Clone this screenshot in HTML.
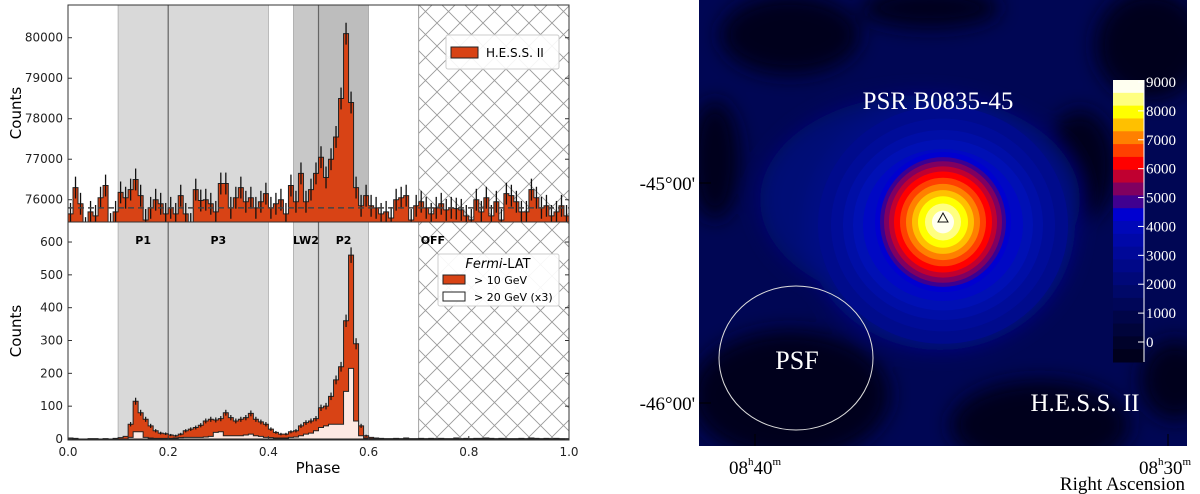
<!DOCTYPE html>
<html><head><meta charset="utf-8">
<style>
html,body{margin:0;padding:0;background:#fff;}
svg{display:block;}
text{font-family:"DejaVu Sans","Liberation Sans",sans-serif;}
.ser{font-family:"Liberation Serif",serif;}
</style></head>
<body>
<svg id="fig" width="1200" height="494" viewBox="0 0 1200 494">
<defs>
<pattern id="hatch" width="23" height="23" patternUnits="userSpaceOnUse">
<path d="M0,0L23,23M23,0L0,23" stroke="#9a9a9a" stroke-width="0.9" fill="none"/>
</pattern>
<filter id="blur"><feGaussianBlur stdDeviation="10"/></filter>
</defs>
<g id="left"></g>
<g id="right"></g>
</svg>
<script>
const hessCounts = [75650,76300,75900,75300,75700,75600,76050,76350,75400,75700,
76180,76050,76250,76500,76100,75500,75800,76000,75900,75650,
75800,75650,76100,75650,75400,76250,75980,76000,75900,75700,
76400,76400,75800,76050,76300,75950,76050,75800,75950,76150,
75800,75900,76000,75650,76350,75950,76650,75950,76250,76650,
77050,76550,77000,77550,78500,80100,78400,76300,75850,76100,
75850,75800,75650,75700,75550,76000,76050,76100,75500,75850,
75950,75800,75650,75800,75900,75750,75800,75780,75750,75600,
75500,76000,75700,76050,75600,75950,75500,76150,76100,75950,
75700,75700,76250,76050,75800,75850,75600,75700,75850,75600];
const hessErr = 270;
const hessBaseline = 75800;
const fermi10 = [3,2,0,0,1,1,0,1,0,2,
4,8,45,115,80,60,40,25,18,16,
12,10,15,25,30,35,42,55,60,58,
62,80,65,55,60,65,78,60,52,45,
30,20,15,15,22,25,40,50,55,62,
95,100,130,180,220,360,560,290,40,10,
5,3,2,1,1,2,1,3,1,1,
2,1,2,1,2,1,1,3,1,2,
1,2,2,3,2,1,2,1,1,1,
2,1,3,2,1,2,1,2,1,1];
const fermi20 = [0,0,0,0,0,0,0,0,0,0,
0,0,5,22,22,5,3,2,2,2,
2,3,4,5,5,5,5,6,8,20,
22,10,10,10,10,12,15,10,8,5,
4,3,3,3,5,6,10,15,18,25,
35,40,45,45,45,145,215,55,10,3,
1,0,0,0,0,0,0,0,0,0,
0,0,0,0,0,0,0,0,0,0,
0,0,0,0,0,0,0,0,0,0,
0,0,0,0,0,0,0,0,0,0];
const hessTicks = [76000,77000,78000,79000,80000];
const fermiTicks = [0,100,200,300,400,500,600];
const phaseTicks = [0.0,0.2,0.4,0.6,0.8,1.0];
const bandNames = ["P1","P3","LW2","P2"];
const bandStart = [0.1,0.2,0.45,0.5];
const bandEnd = [0.2,0.4,0.5,0.6];
const offRange = [0.7,1.0];

const NS="http://www.w3.org/2000/svg";
function mk(tag,attrs,parent,txt){const e=document.createElementNS(NS,tag);for(const k in attrs)e.setAttribute(k,attrs[k]);if(txt!==undefined)e.textContent=txt;parent.appendChild(e);return e;}
const L=document.getElementById('left');
const X0=68,X1=569;
const x=p=>X0+(X1-X0)*p;
const TOP=5,MID=222,BOT=440;
const yT=v=>MID-(v-75450)/1000*40.5;
const yB=v=>439-v*0.3283;
const N=hessCounts.length, bw=1/N;

function bands(y0,y1,top){
  for(let i=0;i<bandNames.length;i++){
    const dark = top && (bandNames[i]==="LW2"||bandNames[i]==="P2");
    const r=mk('rect',{x:x(bandStart[i]),y:y0,width:x(bandEnd[i])-x(bandStart[i]),height:y1-y0,fill:dark?(bandNames[i]==="P2"?'#bdbdbd':'#c8c8c8'):'#d9d9d9',stroke:'#aaa','stroke-width':0.8},L);
    
    
  }
  [0.2,0.5].forEach(p=>mk('line',{x1:x(p),x2:x(p),y1:y0,y2:y1,stroke:'#666','stroke-width':1.2},L));
  const h=mk('rect',{x:x(offRange[0]),y:y0,width:x(offRange[1])-x(offRange[0]),height:y1-y0,fill:'url(#hatch)',stroke:'#888','stroke-width':0.8},L);
  
  
}
bands(TOP,MID,true);
bands(MID,BOT,false);

function stepPath(vals,yf,base){
  let d='M'+x(0)+','+base;
  vals.forEach((v,i)=>{d+='L'+x(i*bw)+','+yf(v)+'L'+x((i+1)*bw)+','+yf(v);});
  d+='L'+x(1)+','+base+'Z';return d;
}
const clipT=mk('clipPath',{id:'cT'},L);mk('rect',{x:X0,y:TOP,width:X1-X0,height:MID-TOP},clipT);
const gT=mk('g',{'clip-path':'url(#cT)'},L);
const ph=mk('path',{d:stepPath(hessCounts,yT,MID),fill:'#d84315',stroke:'#222','stroke-width':1},gT);


hessCounts.forEach((v,i)=>{const cx=x((i+0.5)*bw);mk('line',{x1:cx,x2:cx,y1:yT(v-hessErr),y2:yT(v+hessErr),stroke:'#111','stroke-width':1.3},gT);});
mk('line',{x1:X0,x2:X1,y1:yT(hessBaseline),y2:yT(hessBaseline),stroke:'#444','stroke-width':1.5,'stroke-dasharray':'6,4'},gT);
const pf=mk('path',{d:stepPath(fermi10,yB,439),fill:'#d84315',stroke:'#222','stroke-width':1},L);


fermi10.forEach((v,i)=>{if(v<10)return;const cx=x((i+0.5)*bw);const e=Math.sqrt(v);mk('line',{x1:cx,x2:cx,y1:yB(v-e),y2:yB(v+e),stroke:'#111','stroke-width':1.2},L);});
const p20=mk('path',{d:stepPath(fermi20,yB,439),fill:'#fce9e3',stroke:'#222','stroke-width':1},L);


const lblX=[0.15,0.3,0.475,0.55];
bandNames.forEach((n,i)=>{const t=mk('text',{x:x(lblX[i]),y:244,'font-size':11,'font-weight':'bold','text-anchor':'middle'},L,n);});
const off=mk('text',{x:x(0.7)+2,y:244,'font-size':11,'font-weight':'bold'},L,'OFF');

mk('rect',{x:X0,y:TOP,width:X1-X0,height:MID-TOP,fill:'none',stroke:'#333','stroke-width':1},L);
mk('rect',{x:X0,y:MID,width:X1-X0,height:BOT-MID,fill:'none',stroke:'#333','stroke-width':1},L);
hessTicks.forEach(v=>{const y=yT(v);mk('line',{x1:X0,x2:X0+4,y1:y,y2:y,stroke:'#333'},L);mk('line',{x1:X1,x2:X1-4,y1:y,y2:y,stroke:'#333'},L);
 const t=mk('text',{x:X0-5,y:y+4,'font-size':12,'text-anchor':'end',fill:'#222'},L,v);});
fermiTicks.forEach(v=>{const y=yB(v);mk('line',{x1:X0,x2:X0+4,y1:y,y2:y,stroke:'#333'},L);mk('line',{x1:X1,x2:X1-4,y1:y,y2:y,stroke:'#333'},L);
 const t=mk('text',{x:X0-5,y:y+4,'font-size':12,'text-anchor':'end',fill:'#222'},L,v);});
phaseTicks.forEach(p=>{const xx=x(p);mk('line',{x1:xx,x2:xx,y1:BOT,y2:BOT-4,stroke:'#333'},L);
 const t=mk('text',{x:xx,y:456,'font-size':12,'text-anchor':'middle',fill:'#222'},L,p.toFixed(1));});
</script>
<script>
(function(){
const NS="http://www.w3.org/2000/svg";const L=document.getElementById('left');
function mk(tag,attrs,txt){const e=document.createElementNS(NS,tag);for(const k in attrs)e.setAttribute(k,attrs[k]);if(txt!==undefined)e.textContent=txt;L.appendChild(e);return e;}
let t=mk('text',{x:0,y:0,'font-size':15,'text-anchor':'middle',transform:'translate(21,113) rotate(-90)'},'Counts');
t=mk('text',{x:0,y:0,'font-size':15,'text-anchor':'middle',transform:'translate(21,331) rotate(-90)'},'Counts');
t=mk('text',{x:318,y:473,'font-size':15,'text-anchor':'middle'},'Phase');
let g=mk('rect',{x:446,y:35,width:113,height:34,fill:'#fff','fill-opacity':0.9,stroke:'#ccc',rx:2});
mk('rect',{x:451,y:47,width:27,height:11,fill:'#d84315',stroke:'#222'});
t=mk('text',{x:486,y:57,'font-size':12},'H.E.S.S. II');
g=mk('rect',{x:438,y:254,width:121,height:52,fill:'#fff','fill-opacity':0.92,stroke:'#ccc',rx:2});
t=mk('text',{x:498,y:268,'font-size':13,'text-anchor':'middle'});t.innerHTML='<tspan font-style="italic">Fermi</tspan>-LAT';
mk('rect',{x:443,y:275,width:22,height:9,fill:'#d84315',stroke:'#222'});
t=mk('text',{x:474,y:284,'font-size':11},'> 10 GeV');
mk('rect',{x:443,y:292,width:22,height:9,fill:'#fff',stroke:'#222'});
t=mk('text',{x:474,y:301,'font-size':11},'> 20 GeV (x3)');
})();
</script>
<script>
const cbLevels=[9000,8000,7000,6000,5000,4000,3000,2000,1000,0];
const cbColors=['#fffff0','#ffff80','#ffff00','#ffc000','#ff8000','#ff4000','#ff0000','#c00030','#800060','#400090','#0000d0','#0008b8','#0008a8','#000898','#000888','#000878','#000868','#000658','#000548','#00043a','#00022a','#00001c'];
(function(){
const NS="http://www.w3.org/2000/svg";const R=document.getElementById('right');
function mk(tag,attrs,parent,txt){const e=document.createElementNS(NS,tag);for(const k in attrs)e.setAttribute(k,attrs[k]);if(txt!==undefined)e.textContent=txt;(parent||R).appendChild(e);return e;}
const cp=mk('clipPath',{id:'mapclip'});mk('rect',{x:699,y:0,width:488,height:446},cp);
const g=mk('g',{'clip-path':'url(#mapclip)'});
mk('rect',{x:699,y:0,width:488,height:446,fill:'#000654'},g);
const bg=mk('g',{filter:'url(#blur)'},g);
[[790,35,70,40],[930,8,70,20],[1150,45,55,55],[790,395,100,65],[1040,425,90,45],[1175,380,35,40],[715,160,25,60],[1080,165,35,55]].forEach(a=>mk('ellipse',{cx:a[0],cy:a[1],rx:a[2],ry:a[3],fill:'#00001e'},bg));
mk('ellipse',{cx:920,cy:200,rx:160,ry:105,fill:'#000876'},bg);
mk('ellipse',{cx:940,cy:225,rx:135,ry:125,fill:'#000a84'},bg);
const blues=[[125,'#000b8c'],[112,'#000c98'],[100,'#000ea6'],[90,'#0010b4'],[80,'#0008c4']];
blues.forEach(r=>mk('ellipse',{cx:943,cy:225,rx:r[0],ry:r[0]*0.95,fill:r[1]},g));
const rings=[[68,'#0000d0'],[63,'#3c0090'],[59,'#800060'],[54,'#c00030'],[49,'#ff0000'],[43,'#ff4000'],[37,'#ff8000'],[31,'#ffc000'],[25,'#ffff00'],[18,'#ffff80'],[11,'#fffff0']];
rings.forEach(r=>mk('ellipse',{cx:943,cy:222,rx:r[0],ry:r[0]*1.03,fill:r[1]},g));
const tri=mk('path',{d:'M943,213L948,222L938,222Z',fill:'none',stroke:'#111','stroke-width':1},g);

const psf=mk('ellipse',{cx:796,cy:358,rx:77,ry:72,fill:'none',stroke:'#ddd','stroke-width':1},g);

let t=mk('text',{x:797,y:369,'font-size':26,fill:'#fff','text-anchor':'middle',class:'ser'},g,'PSF');
t=mk('text',{x:938,y:109,'font-size':25,fill:'#fff','text-anchor':'middle',class:'ser'},g,'PSR B0835-45');
t=mk('text',{x:1085,y:411,'font-size':25,fill:'#fff','text-anchor':'middle',class:'ser'},g,'H.E.S.S. II');
[183,403].forEach(y=>mk('line',{x1:699,x2:711,y1:y,y2:y,stroke:'#000','stroke-width':1},g));
[755,1168].forEach(xx=>mk('line',{x1:xx,x2:xx,y1:446,y2:434,stroke:'#000','stroke-width':1},g));
const cbg=mk('g',{});
const top=80,bot=362,n=cbColors.length,h=(bot-top)/n;
cbColors.forEach((c,i)=>mk('rect',{x:1113,y:top+i*h,width:31,height:h+0.5,fill:c},cbg));
mk('line',{x1:1144,x2:1144,y1:top,y2:bot,stroke:'#fff','stroke-width':1},cbg);
const y9=82,y0=342;
cbLevels.forEach(v=>{const y=y0-(y0-y9)*v/9000;mk('line',{x1:1138,x2:1144,y1:y,y2:y,stroke:'#fff'},cbg);
 const tt=mk('text',{x:1146,y:y+5,'font-size':15,fill:'#fff',class:'ser'},cbg,v);});
t=mk('text',{x:695,y:190,'font-size':19,'text-anchor':'end',class:'ser'},null,"-45°00'");
t=mk('text',{x:695,y:410,'font-size':19,'text-anchor':'end',class:'ser'},null,"-46°00'");
t=mk('text',{x:755,y:474,'font-size':19,'text-anchor':'middle',class:'ser'});t.innerHTML='08<tspan font-size="11" dy="-9">h</tspan><tspan dy="9">40</tspan><tspan font-size="11" dy="-9">m</tspan>';
t=mk('text',{x:1165,y:474,'font-size':19,'text-anchor':'middle',class:'ser'});t.innerHTML='08<tspan font-size="11" dy="-9">h</tspan><tspan dy="9">30</tspan><tspan font-size="11" dy="-9">m</tspan>';
t=mk('text',{x:1185,y:490,'font-size':19,'text-anchor':'end',class:'ser'},null,'Right Ascension');
})();
</script>
</body></html>
